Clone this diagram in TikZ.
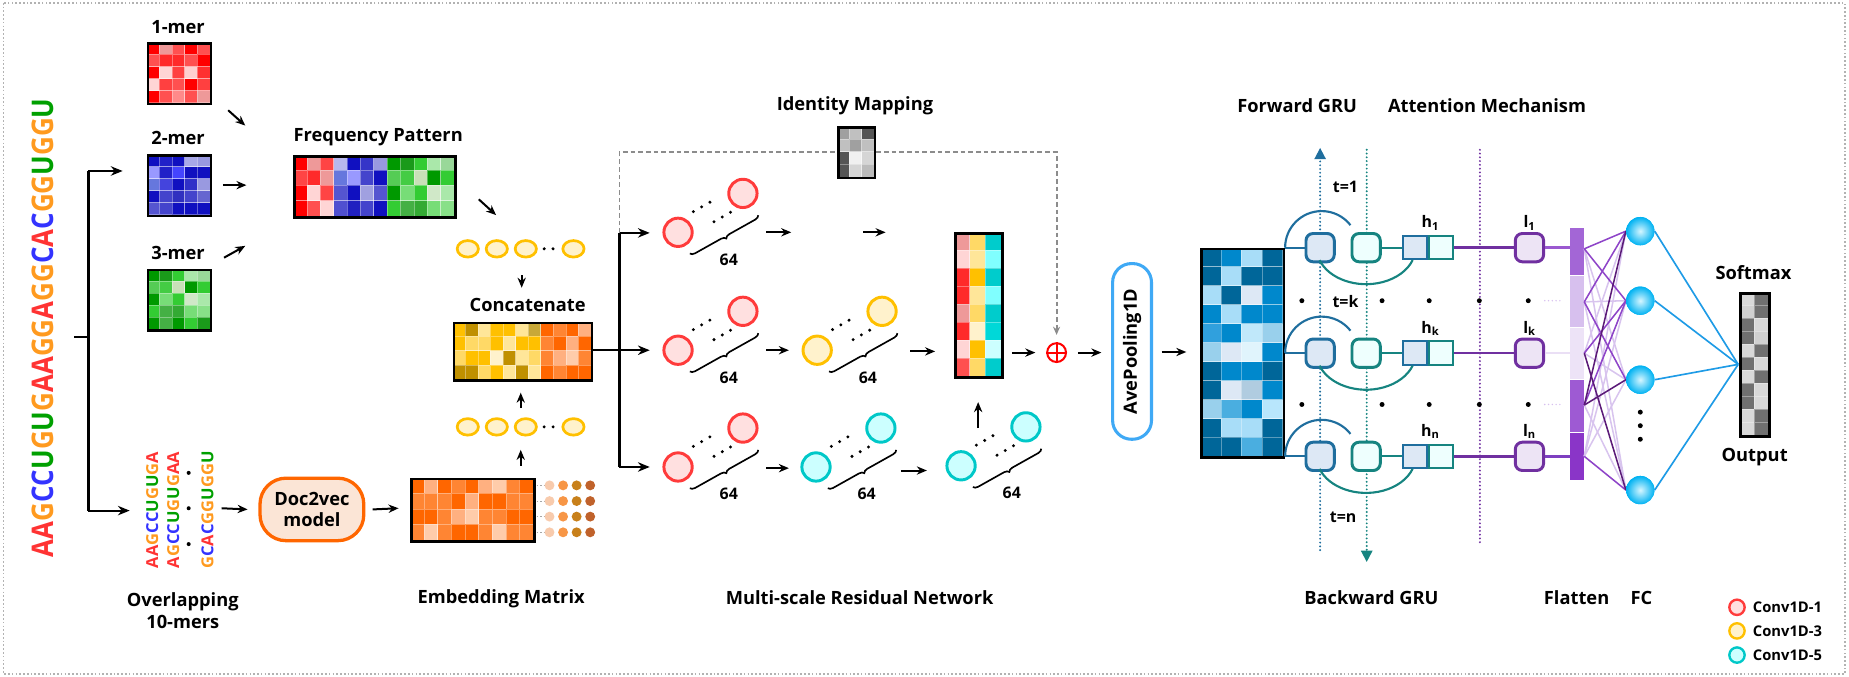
\documentclass[tikz,border=0pt]{standalone}
\usepackage{fontspec}
\setmainfont{Open Sans}
\usetikzlibrary{arrows.meta,decorations.pathreplacing,calc,shapes.geometric}

\definecolor{nA}{HTML}{FF3333}
\definecolor{nG}{HTML}{FF9A1F}
\definecolor{nC}{HTML}{3333FF}
\definecolor{nU}{HTML}{00A000}
\newcommand\bA{\textcolor{nA}{A}}
\newcommand\bG{\textcolor{nG}{G}}
\newcommand\bC{\textcolor{nC}{C}}
\newcommand\bU{\textcolor{nU}{U}}

\definecolor{c1s}{HTML}{FF3B3B}
\definecolor{c1f}{HTML}{FFE0E0}
\definecolor{c3s}{HTML}{FFC000}
\definecolor{c3f}{HTML}{FFF2CC}
\definecolor{c5s}{HTML}{00C8C8}
\definecolor{c5f}{HTML}{CCFFFF}
\definecolor{d2vs}{HTML}{FF6600}
\definecolor{d2vf}{HTML}{FBE5D6}
\definecolor{aveb}{HTML}{3FA9F5}
\definecolor{grub}{HTML}{1F6E9E}
\definecolor{gruf}{HTML}{DDE8F5}
\definecolor{grut}{HTML}{168480}
\definecolor{grutf}{HTML}{EEFFFE}
\definecolor{attp}{HTML}{7030A0}
\definecolor{attf}{HTML}{EDE4F5}
\definecolor{fcl}{HTML}{1E9BE6}
\definecolor{fcin}{HTML}{D6F6FF}
\definecolor{fcout}{HTML}{00B2F2}
\definecolor{idg}{HTML}{8C8C8C}
\definecolor{fcA}{HTML}{8E44C8}
\definecolor{fcB}{HTML}{D8C4EE}
\definecolor{fcC}{HTML}{5B1A78}
\definecolor{fl1}{HTML}{A366D6}
\definecolor{fl2}{HTML}{D7C0EE}
\definecolor{fl3}{HTML}{EDE3F7}
\definecolor{fl4}{HTML}{9E5AD3}
\definecolor{fl5}{HTML}{8A35C8}
\definecolor{lk1}{HTML}{9B59D0}
\definecolor{lk2}{HTML}{EADFF5}
\definecolor{lk3}{HTML}{7E3FC0}
\definecolor{ed1}{HTML}{F8CBAD}
\definecolor{ed2}{HTML}{F79646}
\definecolor{ed3}{HTML}{C8801A}
\definecolor{ed4}{HTML}{C0622B}

% heat map: x0, y0 (top), cell width, cell height, rows
\newcommand\heatmap[5]{%
  \foreach \hmrow [count=\hmr from 0] in {#5} {%
    \foreach \hmc [count=\hmk from 0] in \hmrow {%
      \edef\hmtmp{\noexpand\definecolor{hmcell}{HTML}{\hmc}}\hmtmp
      \fill[hmcell] ({#1+\hmk*#3},{#2+\hmr*#4}) rectangle ++(#3,#4);
      \draw[white,draw opacity=0.35,line width=0.4pt] ({#1+\hmk*#3},{#2+\hmr*#4}) rectangle ++(#3,#4);
    }%
  }%
}

% neuron group: name, x, y, style
\newcommand\ngroup[4]{%
  \node[#4] (#1a) at (#2,#3) {};
  \node[#4] (#1b) at ({#2+55},{#3-33}) {};
  \foreach \dx/\dy in {13/-17.5,20/-21.5,27/-25.5,30.5/-9,37.5/-13,44.5/-17}
    \fill ({#2+\dx},{#3+\dy}) circle[radius=1.4pt];
  \draw[line width=1.4pt,decorate,decoration={brace,amplitude=4pt,mirror}] ({#2+10},{#3+18}) -- ({#2+68},{#3-14.5});
  \node[sml] at ({#2+43},{#3+23}) {64};
}

% GRU row: id, y, subscript
\newcommand\grurow[3]{%
  \node[fwd] (f#1) at (1119.5,#2) {};
  \node[bwd] (b#1) at (1158.5,#2) {};
  \node[hbA] (ha#1) at (1200,#2) {};
  \node[hbB] (hb#1) at (1222,#2) {};
  \node[lb] (l#1) at (1297,#2) {};
  \node[sml] at (1213,{#2-21}) {h\textsubscript{#3}};
  \node[sml] at (1297,{#2-21}) {l\textsubscript{#3}};
  \draw[grub,line width=1.8pt] (bm.east |- f#1) -- (f#1.west);
  \draw[grub,line width=1.8pt] (bm.east |- f#1) arc[start angle=180,end angle=38,radius=31pt];
  \draw[grut,line width=1.8pt] ($(b#1)+(-39.5,10.6)$) arc[start angle=200,end angle=340,x radius=42pt,y radius=31pt];
  \draw[grut,line width=1.8pt] (b#1.east) -- (ha#1.west);
  \draw[attp,line width=2pt] (hb#1.east) -- (l#1.west);
}

\begin{document}
\begin{tikzpicture}[x=1pt,y=-1pt,
  lbl/.style={font=\bfseries\fontsize{15.5}{18.5}\selectfont},
  sml/.style={font=\bfseries\fontsize{13.5}{15}\selectfont},
  arr/.style={-{Stealth[length=8.5pt,width=7pt]},line width=1.7pt},
  brarr/.style={-{Stealth[length=10pt,width=8pt]},line width=1.8pt},
  mbox/.style={draw,line width=2.2pt,inner sep=0pt,anchor=north west},
  nr/.style={circle,draw=c1s,fill=c1f,line width=2.5pt,minimum size=24pt,inner sep=0pt},
  ny/.style={circle,draw=c3s,fill=c3f,line width=2.5pt,minimum size=24pt,inner sep=0pt},
  nc/.style={circle,draw=c5s,fill=c5f,line width=2.5pt,minimum size=24pt,inner sep=0pt},
  ell/.style={ellipse,draw=c3s,fill=c3f,line width=2.3pt,minimum width=18pt,minimum height=14pt,inner sep=0pt},
  fwd/.style={draw=grub,fill=gruf,line width=2.5pt,rounded corners=6pt,minimum size=24pt,inner sep=0pt},
  bwd/.style={draw=grut,fill=grutf,line width=2.5pt,rounded corners=6pt,minimum size=24pt,inner sep=0pt},
  hbA/.style={draw=grub,fill=gruf,line width=1.6pt,minimum size=20pt,inner sep=0pt},
  hbB/.style={draw=grut,fill=grutf,line width=1.6pt,minimum size=20pt,inner sep=0pt},
  lb/.style={draw=attp,fill=attf,line width=2.5pt,rounded corners=6pt,minimum size=24pt,inner sep=0pt},
  fcb/.style={circle,minimum size=24pt,inner sep=0pt,inner color=fcin,outer color=fcout},
  dotl/.style={dash pattern=on 0pt off 3.2pt,line cap=round,line width=1.8pt},
]
\useasboundingbox (0,0) rectangle (1568,574);
\draw[gray!60,dash pattern=on 1.4pt off 1.8pt,line width=1.4pt] (3,2.5) rectangle (1564.5,571.5);

% ---------- input sequence ----------
\node[rotate=90,font=\bfseries\fontsize{22}{22}\selectfont,inner sep=0pt,yscale=1.15] (seq) at (36.5,278)
  {\bA\bA\bG\bC\bC\bU\bG\bU\bG\bA\bA\bG\bG\bA\bG\bG\bC\bA\bC\bG\bG\bU\bG\bG\bU};
\coordinate (br) at (75,286);
\coordinate (brT) at (75,145);
\coordinate (brB) at (75,433);
\draw[line width=1.8pt] (63,286) -- (br);
\draw[line width=1.8pt] (brT) -- (brB);
\draw[brarr] (brT) -- (104,145);
\draw[brarr] (brB) -- (110,433);

% ---------- k-mers ----------
\node[lbl] at (151,22.7) {1-mer};
\heatmap{124.5}{36}{10.7}{10.2}{{FF0000,EE9999,FF5050,FF0000,FF5050},{FF5050,FF2A2A,FF2A2A,FF5050,FF0000},{FF0000,FFD5D5,FF4040,FFD0D0,FF3030},{FFD5D5,FF4040,FF5050,FF0000,FF4040},{FF0000,FF5050,FF8A8A,FF5050,EE9999}}
\node[mbox,minimum width=53.5pt,minimum height=51pt] (k1) at (124.5,36) {};
\node[lbl] at (151,116.7) {2-mer};
\heatmap{124.5}{131}{10.7}{10.2}{{1010C0,2020C8,1010C0,A8A8E8,9999E0},{9999FF,2020C8,4444FF,1010C0,1010C0},{6677DD,4444DD,1010C0,3030C8,9999E0},{1010C0,4444CC,3030C0,4444CC,6666D0},{5555D0,4444CC,1010C0,1010C0,1010C0}}
\node[mbox,minimum width=53.5pt,minimum height=51pt] (k2) at (124.5,131) {};
\node[lbl] at (151,214.7) {3-mer};
\heatmap{124.5}{228}{10.7}{10.2}{{009900,1A9A1A,33CC33,AAE8AA,99D899},{55CC55,44CC44,C8E0B8,009900,33CC33},{009900,77DD77,33CC33,D0E8C8,AAE8AA},{33CC33,44B044,33AA33,77DD77,88E088},{009900,44B044,009900,33CC33,1A9A1A}}
\node[mbox,minimum width=53.5pt,minimum height=51pt] (k3) at (124.5,228) {};
\draw[arr] (193.5,93.5) -- (208,106.5);
\draw[arr] (189,157) -- (209,157);
\draw[arr] (190,218.5) -- (208,208.5);

% ---------- frequency pattern ----------
\node[lbl] at (320.7,116) {Frequency Pattern};
\heatmap{248.8}{131.5}{11.35}{12.9}{{FF0000,EE9999,FF4444,B8B8EE,1010C0,3535C8,9999E0,009900,1A9A1A,33CC33,AAE8AA,99D899},{FF4444,FF2A2A,EE9999,6677DD,9999FF,4444CC,1010C0,55CC55,44CC44,C8E0B8,009900,33CC33},{FF0000,FFD5D5,FF4444,5555D0,1010C0,A0A0E0,5555D0,009900,77DD77,33CC33,D0E8C8,AAE8AA},{FF0000,FF5050,FFD5D5,5050D0,2020C0,4444CC,1010C0,33CC33,44B044,33AA33,77DD77,88E088}}
\node[mbox,minimum width=136.2pt,minimum height=51.6pt] (fp) at (248.8,131.5) {};
\draw[arr] (406,169) -- (420.7,182.4);

% ---------- vectors and concatenation ----------
\foreach \x [count=\i] in {396.7,421.3,445.9,486.3} \node[ell] (ea\i) at (\x,211) {};
\fill (461.5,211) circle[radius=1.4pt] (469,211) circle[radius=1.4pt];
\foreach \x [count=\i] in {396.7,421.3,445.9,486.3} \node[ell] (eb\i) at (\x,362) {};
\fill (461.5,362) circle[radius=1.4pt] (469,362) circle[radius=1.4pt];
\node[lbl] at (447.5,259) {Concatenate};
\heatmap{384}{272.8}{10.64}{12.22}{{FFC000,C09000,FFE699,FFC000,FFC000,FFE699,C8A838,FF6600,FF8533,FF6600,FFB080},{FFC000,FFD966,FFD966,FFC000,FFE699,FFC000,FFC000,FF8533,FF6600,FFB080,FF6600},{FFD966,FFC000,FFC000,FFF2CC,C09000,FFE699,FFD966,FF8533,FFB080,FFCCAA,FF8533},{C09000,C09000,FFD966,FFC000,FFE699,C09000,FFE699,FF6600,FF8533,FF6600,FF6600}}
\node[mbox,minimum width=117pt,minimum height=48.9pt] (cc) at (384,272.8) {};
\draw[arr] (442.4,233.5) -- (442.4,244);
\draw[arr] (441.6,346) -- (441.6,333);
\draw[arr] (441.6,395) -- (441.6,381.5);

% ---------- 10-mers, doc2vec, embedding ----------
\node[rotate=90,font=\bfseries\fontsize{14}{14}\selectfont,inner sep=0pt] (m1) at (129,432.5) {\bA\bA\bG\bC\bC\bU\bG\bU\bG\bA};
\node[rotate=90,font=\bfseries\fontsize{14}{14}\selectfont,inner sep=0pt] (m2) at (147,432.5) {\bA\bG\bC\bC\bU\bG\bU\bG\bA\bA};
\node[rotate=90,font=\bfseries\fontsize{14}{14}\selectfont,inner sep=0pt] (m3) at (176,432.5) {\bG\bC\bA\bC\bG\bG\bU\bG\bG\bU};
\foreach \y in {401,431,461.4} \fill (160,\y) circle[radius=1.7pt];
\node[lbl,align=center] at (155,518) {Overlapping\\10-mers};
\node[lbl,draw=d2vs,fill=d2vf,line width=2.8pt,rounded corners=22pt,minimum width=88pt,minimum height=53pt,align=center,inner sep=0pt] (d2v) at (264.5,432) {Doc2vec\\model};
\draw[arr] (188,431) -- (d2v.west -| 210,431);
\heatmap{348}{405}{11.56}{13.25}{{FF6600,FFB080,FF6600,FF8533,FF6600,FFB080,FFCCAA,FF8533,FF6600},{FF8533,FF8533,FF8533,FF6600,FFB080,FF6600,FF6600,FF8533,FF8533},{FF6600,FF6600,FF8533,FFB080,FFCCAA,FF8533,FF8533,FF6600,FF6600},{FF8533,FFCCAA,FF8533,FF6600,FF6600,FF8533,FFCCAA,FF8533,FF8533}}
\node[mbox,minimum width=104pt,minimum height=53pt] (emb) at (348,405) {};
\draw[arr] (d2v.east -| 316,431) -- (338,431);
\foreach \y in {411.6,424.9,438.1,451.4} {
  \draw[gray!70,line width=0.9pt,dash pattern=on 1.5pt off 1.5pt] (455,\y) -- (462,\y);
  \fill[ed1] (466,\y) circle[radius=4.2pt];
  \fill[ed2] (477.5,\y) circle[radius=4.2pt];
  \fill[ed3] (489,\y) circle[radius=4.2pt];
  \fill[ed4] (500.5,\y) circle[radius=4.2pt];
}
\node[lbl] at (425,508) {Embedding Matrix};

% ---------- multi-scale residual network ----------
\coordinate (vT) at (525.3,197.5);
\coordinate (vM) at (525.3,297);
\coordinate (vB) at (525.3,396);
\draw[line width=1.8pt] (cc.east |- vM) -- (vM);
\draw[line width=1.8pt] (vT) -- (vB);
\draw[brarr] (vT) -- (551,197.5);
\draw[brarr] (vM) -- (551,297);
\draw[brarr] (vB) -- (551,396);

\node[lbl] at (725,90) {Identity Mapping};
\heatmap{710}{107}{10.33}{10.75}{{A0A0A0,C0C0C0,555555},{C0C0C0,A0A0A0,C0C0C0},{555555,F0F0F0,D5D5D5},{555555,D5D5D5,BBBBBB}}
\node[mbox,minimum width=31pt,minimum height=43pt] (idm) at (710,107) {};

\ngroup{gA}{575}{197}{nr}
\ngroup{gB}{575}{297}{nr}
\ngroup{gC}{693}{297}{ny}
\ngroup{gD}{575}{396}{nr}
\ngroup{gE}{692}{396}{nc}
\ngroup{gF}{815}{395}{nc}

\draw[arr] (650,197) -- (671,197);
\draw[arr] (732,197) -- (751,197);
\draw[arr] (650,297) -- (669,297);
\draw[arr] (772,298) -- (793,298);
\draw[arr] (650,397) -- (669,397);
\draw[arr] (764,399) -- (786,399);
\draw[arr] (829.5,363) -- (829.5,341);

\heatmap{809}{197}{13.33}{15.25}{{EE9999,FFD966,00CCCC},{FFD5D5,FFE699,80FFFF},{FF2A2A,FFC000,00CCCC},{FF2A2A,FFE699,80FFFF},{EE9999,FFD966,00CCCC},{FF2A2A,FFF2CC,00D8D8},{FFD5D5,FFC000,CCFFFF},{FF5050,FFD966,00CCCC}}
\node[mbox,minimum width=40pt,minimum height=122pt] (rm) at (809,197) {};

\node[circle,draw=red,line width=1.7pt,minimum size=16pt,inner sep=0pt] (plus) at (896,299) {};
\draw[red,line width=1.7pt] (plus.north) -- (plus.south) (plus.west) -- (plus.east);
\draw[arr] (858,299) -- (878,299);

\draw[idg,line width=1.6pt,dash pattern=on 4pt off 2.5pt] (vT) -- (525.3,129) -- (idm.west |- 0,129);
\draw[idg,line width=1.6pt,dash pattern=on 4pt off 2.5pt,-{Stealth[length=7pt,width=6pt]}] (idm.east |- 0,129) -- (896,129) -- (896,284);

\node[lbl] at (729,507) {Multi-scale Residual Network};

% ---------- pooling ----------
\node[draw=aveb,line width=2.6pt,rounded corners=16pt,minimum width=33pt,minimum height=149pt,inner sep=0pt] (ave) at (960,298) {};
\node[lbl,rotate=90] at (ave) {AvePooling1D};
\draw[arr] (914,299) -- (934,299);

\heatmap{1018}{210}{17.4}{16.1}{{006699,0088CC,A8DDF8,006699},{006699,A8DDF8,006699,006699},{A8DDF8,006699,DDE8F5,0088CC},{0088CC,A8DDF8,0088CC,0088CC},{30A0DD,0088CC,C0E8FA,99D0EC},{99D0EC,DDE8F5,E0F4FC,0088CC},{006699,0088CC,0088CC,006699},{006699,DDE8F5,B0CCE0,0088CC},{99D0EC,4AAEE0,0088CC,B8E6FC},{006699,A8DDF8,A8DDF8,006699},{006699,006699,4AAEE0,006699}}
\node[mbox,minimum width=69.6pt,minimum height=177pt] (bm) at (1018,210) {};
\draw[arr] (985,298.5) -- (1006,298.5);

% ---------- BiGRU + attention ----------
\node[lbl] at (1100,90) {Forward GRU};
\node[lbl] at (1261,90) {Attention Mechanism};
\draw[grub,dotl] (1119.5,466.5) -- (1119.5,134);
\fill[grub] (1119.5,125.5) -- (1114.5,135) -- (1124.5,135) -- cycle;
\draw[grut,dotl] (1159,127) -- (1159,468);
\fill[grut] (1159,476.5) -- (1154,467) -- (1164,467) -- cycle;
\draw[attp,dotl] (1255,127) -- (1255,460.5);
\node[sml] at (1141,158.5) {t=1};
\node[sml] at (1141,256) {t=k};
\node[sml] at (1139,438.5) {t=n};

\grurow{1}{210}{1}
\grurow{2}{299.5}{k}
\grurow{3}{387}{n}

\foreach \y in {255,343} {
  \foreach \x in {1104,1172,1212,1254.5,1296} \fill (\x,\y) circle[radius=2.1pt];
  \draw[fl2,dotl,line width=1.4pt] (1310,\y) -- (1324,\y);
}

% ---------- flatten ----------
\fill[fl1] (1331.5,193) rectangle (1343.5,234);
\fill[fl2] (1331.5,234) rectangle (1343.5,278);
\fill[fl3] (1331.5,278) rectangle (1343.5,321.5);
\fill[fl4] (1331.5,321.5) rectangle (1343.5,366.5);
\fill[fl5] (1331.5,366.5) rectangle (1343.5,407);
\foreach \y in {234,278,321.5,366.5} \draw[white,line width=0.8pt] (1331.5,\y) -- (1343.5,\y);
\node[inner sep=0pt,minimum width=12pt,minimum height=214pt,anchor=north west] (fl) at (1331.5,193) {};
\draw[lk1,line width=2pt] (l1.east) -- (fl.west |- l1);
\draw[lk2,line width=2pt] (l2.east) -- (fl.west |- l2);
\draw[lk3,line width=2pt] (l3.east) -- (fl.west |- l3);

% ---------- fully connected ----------
\node[fcb] (c1) at (1391,196) {};
\node[fcb] (c2) at (1391,255) {};
\node[fcb] (c3) at (1391,322) {};
\node[fcb] (c4) at (1391,415.6) {};
\foreach \y in {349.5,361,372.5} \fill (1391,\y) circle[radius=2.1pt];
\foreach \sy [count=\s] in {211,256,299.5,343.5,387} \coordinate (s\s) at (1343.5,\sy);
\begin{scope}[line width=1.3pt]
\foreach \s/\c/\col in {1/3/fcB,1/4/fcB,2/2/fcB,2/4/fcB,3/1/fcB,3/3/fcB,4/4/fcB,5/1/fcB,5/2/fcB,5/3/fcB,
                        1/1/fcA,1/2/fcA,2/1/fcA,2/3/fcA,3/2/fcA,4/2/fcA,5/4/fcA,3/4/fcC,4/1/fcC,4/3/fcC}
  \draw[\col] (s\s) -- (c\c.west);
\end{scope}
\node[fcb] at (c1) {};
\node[fcb] at (c2) {};
\node[fcb] at (c3) {};
\node[fcb] at (c4) {};

% ---------- softmax ----------
\node[lbl] at (1487,231.5) {Softmax};
\heatmap{1475}{248}{12.25}{11}{{D8D8D8,707070},{D0D0D0,707070},{707070,D8D8D8},{707070,D0D0D0},{D8D8D8,707070},{707070,D8D8D8},{D8D8D8,707070},{707070,D8D8D8},{707070,D8D8D8},{D8D8D8,707070},{D8D8D8,707070}}
\node[mbox,minimum width=24.5pt,minimum height=121pt] (sm) at (1475,248) {};
\coordinate (smin) at (1474,309);
\foreach \c in {1,2,3,4} \draw[fcl,line width=1.4pt] (c\c.east) -- (smin);
\node[lbl] at (1488,387.5) {Output};

\node[lbl] at (1163,507) {Backward GRU};
\node[lbl] at (1337,507) {Flatten};
\node[lbl] at (1392,507) {FC};

% ---------- legend ----------
\node[nr,minimum size=13pt,line width=2pt] (lg1) at (1473,515) {};
\node[ny,minimum size=13pt,line width=2pt] (lg2) at (1473,535) {};
\node[nc,minimum size=13pt,line width=2pt] (lg3) at (1473,555.5) {};
\node[anchor=west,font=\bfseries\fontsize{12.5}{14}\selectfont] at (1483,515) {Conv1D-1};
\node[anchor=west,font=\bfseries\fontsize{12.5}{14}\selectfont] at (1483,535) {Conv1D-3};
\node[anchor=west,font=\bfseries\fontsize{12.5}{14}\selectfont] at (1483,555.5) {Conv1D-5};
\end{tikzpicture}
\end{document}
